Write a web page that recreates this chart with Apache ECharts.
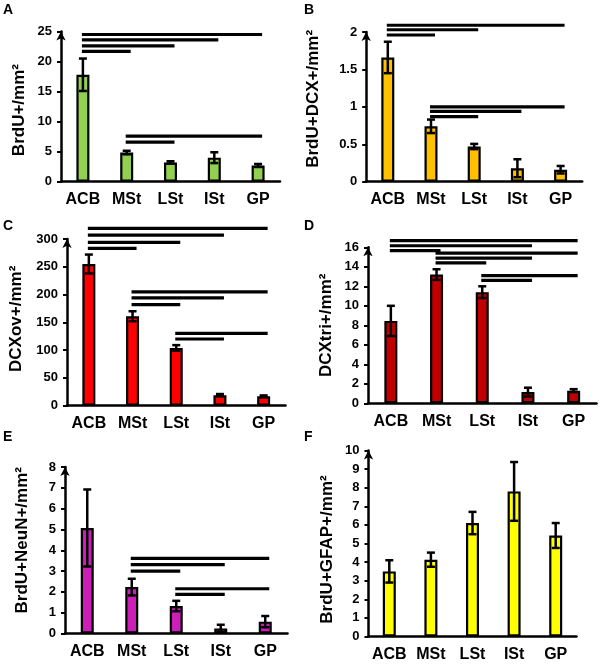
<!DOCTYPE html>
<html>
<head>
<meta charset="utf-8">
<script src="https://cdn.jsdelivr.net/npm/echarts@6/dist/echarts.min.js"></script>
<style>html,body{margin:0;padding:0;background:#fff;}#chart{width:600px;height:665px;}</style>
</head>
<body>
<div id="chart"></div>
<script>
// ---- data ----
const categories = ['ACB', 'MSt', 'LSt', 'ISt', 'GP'];

const brduMean = [17.8, 4.85, 3.2, 4.0, 2.7];
const brduErr  = [2.7, 0.3, 0.2, 0.9, 0.25];
const brduSig  = [[0,1,21.7],[0,2,22.6],[0,3,23.6],[0,4,24.5],[1,2,6.6],[1,4,7.6]];

const dcxMean = [1.66, 0.74, 0.47, 0.18, 0.16];
const dcxErr  = [0.21, 0.09, 0.035, 0.12, 0.05];
const dcxSig  = [[0,1,1.96],[0,2,2.03],[0,4,2.09],[1,2,0.87],[1,3,0.94],[1,4,1.0]];

const ovMean = [255, 161, 104, 19, 17];
const ovErr  = [17, 9, 5, 2, 1.5];
const ovSig  = [[0,1,283],[0,2,294],[0,3,307],[0,4,319],[1,2,182],[1,3,194],[1,4,205],[2,3,120],[2,4,130]];

const triMean = [8.45, 13.2, 11.4, 1.15, 1.3];
const triErr  = [1.55, 0.55, 0.6, 0.45, 0.15];
const triSig  = [[0,1,15.65],[0,3,16.16],[0,4,16.68],[1,2,14.4],[1,3,14.9],[1,4,15.4],[2,3,12.6],[2,4,13.1]];

const neunMean = [5.07, 2.23, 1.32, 0.24, 0.57];
const neunErr  = [1.85, 0.4, 0.25, 0.18, 0.27];
const neunSig  = [[1,2,3.0],[1,3,3.31],[1,4,3.61],[2,3,1.88],[2,4,2.15]];

const gfapMean = [3.5, 4.13, 6.1, 7.8, 5.43];
const gfapErr  = [0.6, 0.38, 0.6, 1.58, 0.67];
const gfapSig  = [];

// ---- layout / style ----
const FONT = 'Liberation Sans, Arial, sans-serif';
const panels = [
  {letter:'A', lx:3,   ly:3,   name:'BrdU+/mm²',       mean:brduMean, err:brduErr, sig:brduSig, max:25,  step:5,   color:'#92D050', grid:{left:61,   top:31.5, width:219,   height:150.2}, gap:33, pad:[0,7,0,0]},
  {letter:'B', lx:304, ly:3,   name:'BrdU+DCX+/mm²',   mean:dcxMean,  err:dcxErr,  sig:dcxSig,  max:2,   step:0.5, color:'#FFC000', grid:{left:366.2, top:32,   width:216,   height:149.7}, gap:44, pad:[0,0,0,16]},
  {letter:'C', lx:3,   ly:219, name:'DCXov+/mm²',      mean:ovMean,   err:ovErr,   sig:ovSig,   max:300, step:50,  color:'#FF0000', grid:{left:67,    top:239,  width:218.5, height:166.7}, gap:42, pad:[0,0,0,7]},
  {letter:'D', lx:304, ly:219, name:'DCXtri+/mm²',     mean:triMean,  err:triErr,  sig:triSig,  max:16,  step:2,   color:'#C00000', grid:{left:368,   top:247.3,width:228.5, height:156},   gap:33, pad:[0,0,0,0]},
  {letter:'E', lx:3,   ly:430, name:'BrdU+NeuN+/mm²',  mean:neunMean, err:neunErr, sig:neunSig, max:8,   step:1,   color:'#CC1FB8', grid:{left:65,    top:467,  width:222.5, height:166.5}, gap:34, pad:[0,0,0,20]},
  {letter:'F', lx:304, ly:430, name:'BrdU+GFAP+/mm²',  mean:gfapMean, err:gfapErr, sig:gfapSig, max:10,  step:1,   color:'#FFFF00', grid:{left:368.5, top:450.5,width:208,   height:186},   gap:33, pad:[0,12,0,0]}
];

function errRender(params, api) {
  const x = api.value(0), m = api.value(1), e = api.value(2);
  const t = api.coord([x, m + e]);
  const b = api.coord([x, m - e]);
  const cx = t[0], hw = 4;
  const st = {stroke:'#000', lineWidth:2.5};
  return {type:'group', children:[
    {type:'line', shape:{x1:cx, y1:t[1], x2:cx, y2:b[1]}, style:st},
    {type:'line', shape:{x1:cx-hw, y1:t[1], x2:cx+hw, y2:t[1]}, style:st},
    {type:'line', shape:{x1:cx-hw, y1:b[1], x2:cx+hw, y2:b[1]}, style:st}
  ]};
}
function sigRender(params, api) {
  const a = api.coord([api.value(0), api.value(2)]);
  const b = api.coord([api.value(1), api.value(2)]);
  return {type:'line', shape:{x1:a[0]-1, y1:a[1], x2:b[0]+4, y2:b[1]}, style:{stroke:'#000', lineWidth:3.2}};
}

const option = {
  animation:false,
  backgroundColor:'#fff',
  textStyle:{fontFamily:FONT},
  grid:[], xAxis:[], yAxis:[], series:[],
  graphic: panels.map(p => ({type:'text', left:p.lx, top:p.ly, style:{text:p.letter, font:'bold 14px ' + FONT, fill:'#000'}}))
};

panels.forEach((p, i) => {
  option.grid.push(Object.assign({containLabel:false}, p.grid));
  option.xAxis.push({
    type:'category', gridIndex:i, data:categories,
    axisLine:{lineStyle:{color:'#000', width:2.5}},
    axisTick:{show:false},
    axisLabel:{color:'#000', fontWeight:'bold', fontSize:16, fontFamily:FONT, margin:10, interval:0}
  });
  option.yAxis.push({
    type:'value', gridIndex:i, min:0, max:p.max, interval:p.step,
    name:p.name, nameLocation:'middle', nameRotate:90, nameGap:p.gap,
    nameTextStyle:{color:'#000', fontWeight:'bold', fontSize:17, fontFamily:FONT, padding:p.pad},
    axisLine:{show:true, lineStyle:{color:'#000', width:2.5}, symbol:['none','arrow'], symbolSize:[7,9]},
    axisTick:{show:true, length:4, lineStyle:{color:'#000', width:2}},
    axisLabel:{color:'#000', fontWeight:'bold', fontSize:13, fontFamily:FONT, margin:9},
    splitLine:{show:false}
  });
  option.series.push({
    type:'bar', xAxisIndex:i, yAxisIndex:i, data:p.mean, barWidth:13,
    itemStyle:{color:p.color, borderColor:'#000', borderWidth:2.2}, z:2
  });
  option.series.push({
    type:'custom', xAxisIndex:i, yAxisIndex:i, renderItem:errRender, z:3,
    encode:{x:0, y:1},
    data:categories.map((c, k) => [k, p.mean[k], p.err[k]])
  });
  if (p.sig.length) {
    option.series.push({
      type:'custom', xAxisIndex:i, yAxisIndex:i, renderItem:sigRender, z:3, clip:false,
      encode:{x:[0,1], y:2},
      data:p.sig
    });
  }
});

const chart = echarts.init(document.getElementById('chart'), null, {renderer:'canvas'});
chart.setOption(option);
</script>
</body>
</html>
